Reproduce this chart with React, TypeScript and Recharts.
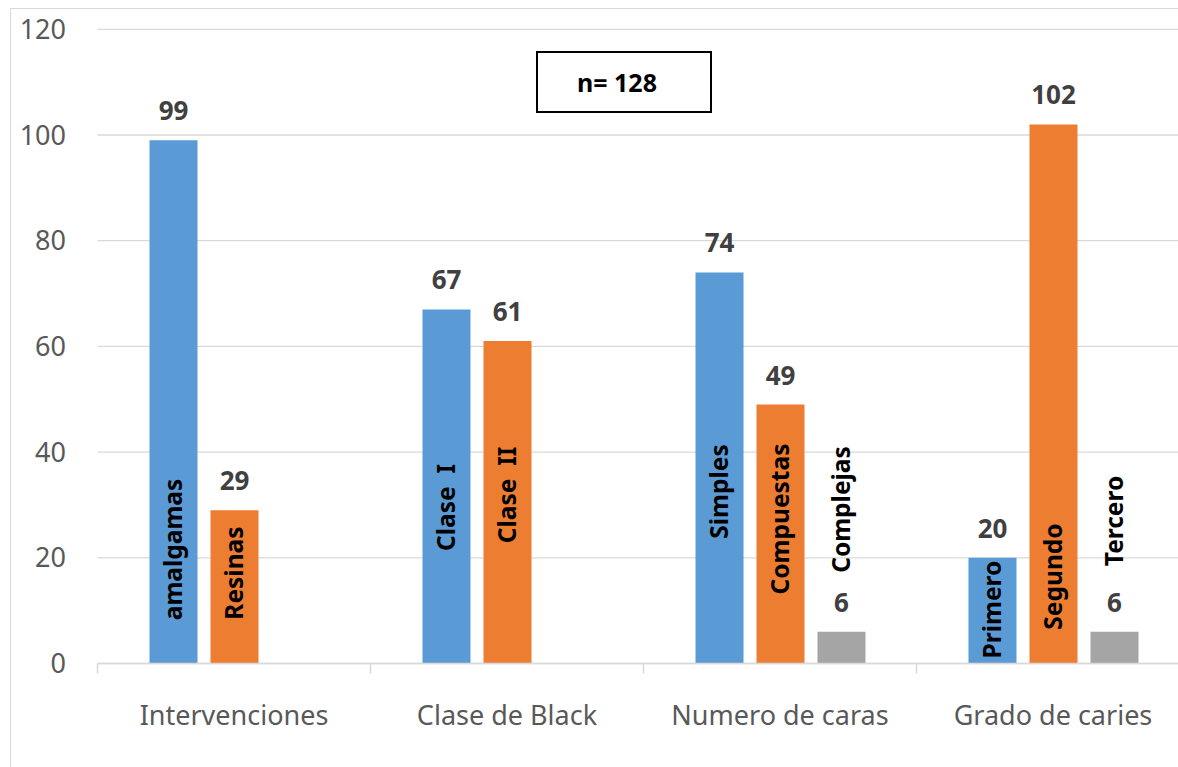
import React from 'react';
import { BarChart, Bar, XAxis, YAxis, CartesianGrid, LabelList } from 'recharts';

// ---------- data ----------
const categories = ['Intervenciones', 'Clase de Black', 'Numero de caras', 'Grado de caries'];
const serie1Values: (number | null)[] = [99, 67, 74, 20];
const serie2Values: (number | null)[] = [29, 61, 49, 102];
const serie3Values: (number | null)[] = [null, null, 6, 6];
const serie1Names: (string | null)[] = ['amalgamas', 'Clase  I', 'Simples', 'Primero'];
const serie2Names: (string | null)[] = ['Resinas', 'Clase  II', 'Compuestas', 'Segundo'];
const serie3Names: (string | null)[] = [null, null, 'Complejas', 'Tercero'];
const yTicks = [0, 20, 40, 60, 80, 100, 120];
const sampleNote = 'n= 128';

const data = categories.map((category, i) => ({
  category,
  s1: serie1Values[i],
  s2: serie2Values[i],
  s3: serie3Values[i],
  n1: serie1Names[i],
  n2: serie2Names[i],
  n3: serie3Names[i],
}));

// ---------- layout ----------
const FONT = "'Noto Sans', sans-serif";
const CHART_W = 1200;
const CHART_H = 767;
const MARGIN = { top: 29.3, right: 10.5, left: 0, bottom: 23.5 };
const YAXIS_W = 97.5;
const XAXIS_H = 80;
const BAND = (CHART_W - MARGIN.left - MARGIN.right - YAXIS_W) / categories.length;

const COLORS = { s1: '#5B9BD5', s2: '#ED7D31', s3: '#A5A5A5' };

const namesBySeries: Record<string, (string | null)[]> = {
  n1: serie1Names,
  n2: serie2Names,
  n3: serie3Names,
};

// vertical placement (px above the base line) of the centre of each rotated name label
const innerLift: Record<string, number[]> = {
  n1: [114, 156, 172, 54],
  n2: [90.5, 168.5, 144.5, 87],
  n3: [0, 0, 154, 142.5],
};

const XTick = (props: any) => {
  const { x, y, payload } = props;
  const left = x - BAND / 2;
  return (
    <g>
      <line x1={left} y1={y} x2={left} y2={y + 10} stroke="#D9D9D9" strokeWidth={1.5} />
      <text x={x} y={y + 61.5} textAnchor="middle" fontSize={27} fill="#595959" fontFamily={FONT}>
        {payload.value}
      </text>
    </g>
  );
};

const valueLabel = (props: any) => {
  const { x, y, width, value } = props;
  if (value === null || value === undefined) return null;
  return (
    <text
      x={Number(x) + Number(width) / 2}
      y={Number(y) - 20}
      textAnchor="middle"
      fontSize={26}
      fontWeight={700}
      fill="#404040"
      fontFamily={FONT}
    >
      {value}
    </text>
  );
};

const makeNameLabel = (key: string) => (props: any) => {
  const { x, y, width, height, value } = props;
  if (!value) return null;
  const idx = namesBySeries[key].indexOf(value);
  if (idx < 0) return null;
  const cx = Number(x) + Number(width) / 2 + 8;
  const base = Number(y) + Number(height);
  const cy = base - innerLift[key][idx];
  return (
    <text
      x={cx}
      y={cy}
      transform={`rotate(-90 ${cx} ${cy})`}
      textAnchor="middle"
      fontSize={24.5}
      fontWeight={700}
      fill="#000000"
      fontFamily={FONT}
      style={{ whiteSpace: 'pre' }}
    >
      {value}
    </text>
  );
};

export default function App() {
  return (
    <div
      style={{
        position: 'fixed',
        left: 0,
        top: 0,
        width: 1178,
        height: 767,
        overflow: 'hidden',
        background: '#ffffff',
        fontFamily: FONT,
      }}
    >
      <div
        style={{
          position: 'absolute',
          left: 10,
          top: 8,
          width: 1400,
          height: 1000,
          border: '1.5px solid #D9D9D9',
          boxSizing: 'border-box',
        }}
      />
      <div style={{ position: 'absolute', left: 0, top: 0 }}>
        <BarChart
          width={CHART_W}
          height={CHART_H}
          data={data}
          margin={MARGIN}
          barSize={48}
          barGap={13}
        >
          <CartesianGrid vertical={false} stroke="#D9D9D9" strokeWidth={1.3} />
          <XAxis
            dataKey="category"
            height={XAXIS_H}
            axisLine={{ stroke: '#D9D9D9', strokeWidth: 1.5 }}
            tickLine={false}
            tickSize={0}
            tickMargin={0}
            interval={0}
            tick={<XTick />}
          />
          <YAxis
            width={YAXIS_W}
            domain={[0, 120]}
            ticks={yTicks}
            axisLine={false}
            tickLine={false}
            tickSize={0}
            tickMargin={31.5}
            tick={{ fontSize: 27, fill: '#595959', fontFamily: FONT }}
          />
          <Bar dataKey="s1" fill={COLORS.s1} isAnimationActive={false}>
            <LabelList dataKey="s1" content={valueLabel} />
            <LabelList dataKey="n1" content={makeNameLabel('n1')} />
          </Bar>
          <Bar dataKey="s2" fill={COLORS.s2} isAnimationActive={false}>
            <LabelList dataKey="s2" content={valueLabel} />
            <LabelList dataKey="n2" content={makeNameLabel('n2')} />
          </Bar>
          <Bar dataKey="s3" fill={COLORS.s3} isAnimationActive={false}>
            <LabelList dataKey="s3" content={valueLabel} />
            <LabelList dataKey="n3" content={makeNameLabel('n3')} />
          </Bar>
        </BarChart>
      </div>
      <div
        style={{
          position: 'absolute',
          left: 536,
          top: 51,
          width: 176,
          height: 62,
          border: '2px solid #000000',
          boxSizing: 'border-box',
          display: 'flex',
          alignItems: 'center',
          justifyContent: 'center',
          paddingRight: 14,
          fontSize: 25,
          fontWeight: 700,
          color: '#000000',
          fontFamily: FONT,
          background: '#ffffff',
        }}
      >
        {sampleNote}
      </div>
    </div>
  );
}
